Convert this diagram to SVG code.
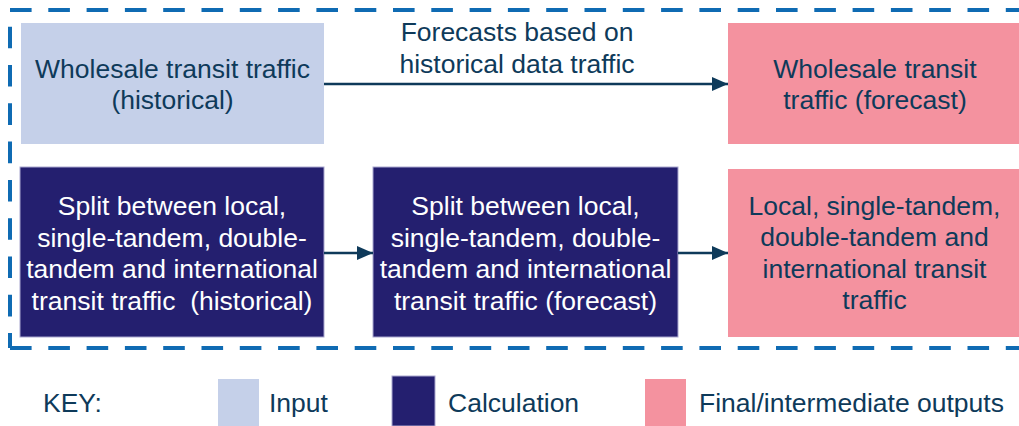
<svg xmlns="http://www.w3.org/2000/svg" width="1019" height="426" viewBox="0 0 1019 426">
  <defs>
    <style>
      text { font-family: "Liberation Sans", Arial, sans-serif; font-size: 26.5px; text-anchor: middle; }
      .dk { fill: #0E3A5A; }
      .wt { fill: #FFFFFF; }
      .input { fill: #C5D0E9; }
      .calc { fill: #241F6F; stroke: #A9A7CF; stroke-width: 1; }
      .out { fill: #F4929F; }
      .border { fill: none; stroke: #0F6BB3; stroke-width: 4; stroke-dasharray: 21.6 16.7; }
      .conn { fill: none; stroke: #0E3A5A; stroke-width: 2.5; }
      .legend { text-anchor: start; }
    </style>
    <marker id="arrow" markerWidth="16" markerHeight="14" refX="16" refY="7" orient="auto" markerUnits="userSpaceOnUse">
      <path d="M0,0 L16,7 L0,14 Z" fill="#0E3A5A"/>
    </marker>
  </defs>
  <rect width="1019" height="426" fill="#FFFFFF"/>

  <g id="boundary">
    <path class="border" d="M10,10 H1040"/>
    <path class="border" d="M10,348 H1040"/>
    <path class="border" d="M10,10 V348" stroke-dashoffset="21.6"/>
  </g>

  <g id="node-wholesale-historical">
    <rect class="input" x="21" y="23" width="303" height="121"/>
    <text class="dk" x="172.5" y="77.5">Wholesale transit traffic</text>
    <text class="dk" x="172.5" y="108.5">(historical)</text>
  </g>

  <g id="node-wholesale-forecast">
    <rect class="out" x="728" y="23" width="291" height="121"/>
    <text class="dk" x="875" y="77.5">Wholesale transit</text>
    <text class="dk" x="875" y="108.5">traffic (forecast)</text>
  </g>

  <g id="node-split-historical">
    <rect class="calc" x="20" y="167" width="304" height="170"/>
    <text class="wt" x="172" y="215">Split between local,</text>
    <text class="wt" x="172" y="246.5">single-tandem, double-</text>
    <text class="wt" x="172" y="278">tandem and international</text>
    <text class="wt" x="172" y="309.5" xml:space="preserve">transit traffic  (historical)</text>
  </g>

  <g id="node-split-forecast">
    <rect class="calc" x="373" y="167" width="305" height="170"/>
    <text class="wt" x="525.5" y="215">Split between local,</text>
    <text class="wt" x="525.5" y="246.5">single-tandem, double-</text>
    <text class="wt" x="525.5" y="278">tandem and international</text>
    <text class="wt" x="525.5" y="309.5">transit traffic (forecast)</text>
  </g>

  <g id="node-final-split">
    <rect class="out" x="728" y="169" width="291" height="168"/>
    <text class="dk" x="874.5" y="214.5">Local, single-tandem,</text>
    <text class="dk" x="874.5" y="246">double-tandem and</text>
    <text class="dk" x="874.5" y="277.5">international transit</text>
    <text class="dk" x="874.5" y="309">traffic</text>
  </g>

  <g id="connectors">
    <line class="conn" x1="324" y1="84" x2="728" y2="84" marker-end="url(#arrow)"/>
    <text class="dk" x="517" y="41">Forecasts based on</text>
    <text class="dk" x="517" y="72.5">historical data traffic</text>
    <line class="conn" x1="324" y1="253" x2="373" y2="253" marker-end="url(#arrow)"/>
    <line class="conn" x1="678" y1="253" x2="728" y2="253" marker-end="url(#arrow)"/>
  </g>

  <g id="legend">
    <text class="dk legend" x="43" y="412">KEY:</text>
    <rect class="input" x="218" y="379" width="41" height="47"/>
    <text class="dk legend" x="269" y="412">Input</text>
    <rect class="calc" x="392" y="376" width="43" height="50"/>
    <text class="dk legend" x="448" y="412">Calculation</text>
    <rect class="out" x="645" y="379" width="41" height="47"/>
    <text class="dk legend" x="699" y="412">Final/intermediate outputs</text>
  </g>
</svg>
